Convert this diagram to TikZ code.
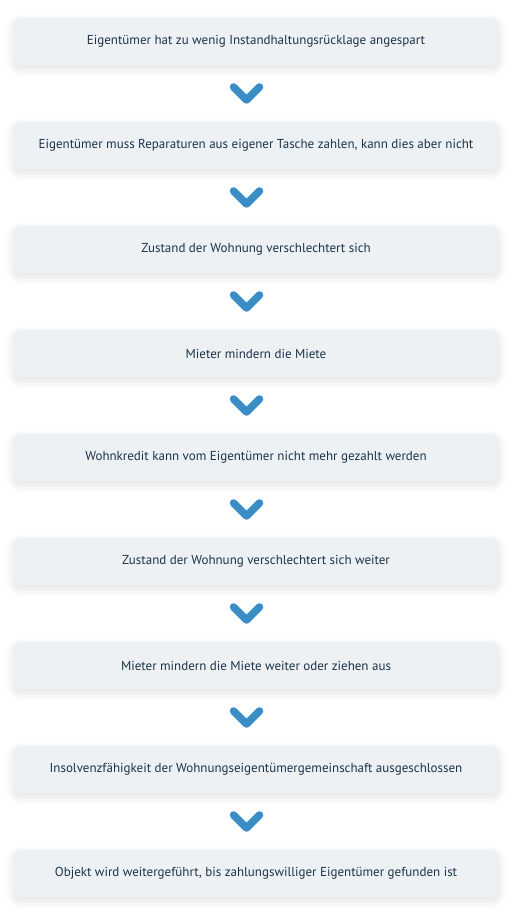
\documentclass[tikz,border=0pt]{standalone}
\usepackage{fontspec}
\setmainfont{PT Sans}
\usetikzlibrary{shadows.blur}
\definecolor{boxfill}{HTML}{EDF1F4}
\definecolor{txt}{HTML}{1C3349}
\definecolor{chev}{HTML}{3A8CC4}
\tikzset{
  stepbox/.style={draw=none, fill=boxfill, rounded corners=8pt, minimum width=486pt, minimum height=47pt,
    text=txt, font=\fontsize{13}{15}\selectfont, inner sep=0pt,
    blur shadow={shadow xshift=0pt, shadow yshift=-4pt, shadow blur steps=10, shadow blur radius=8pt, shadow opacity=12}},
  chevline/.style={draw=chev, line width=7.5pt, line cap=round, line join=round}
}
\begin{document}
\begin{tikzpicture}[x=1pt,y=-1pt]
\useasboundingbox (0,0) rectangle (518,920);
\foreach \i/\t in {0/{Eigentümer hat zu wenig Instandhaltungsrücklage angespart},
  1/{Eigentümer muss Reparaturen aus eigener Tasche zahlen, kann dies aber nicht},
  2/{Zustand der Wohnung verschlechtert sich},
  3/{Mieter mindern die Miete},
  4/{Wohnkredit kann vom Eigentümer nicht mehr gezahlt werden},
  5/{Zustand der Wohnung verschlechtert sich weiter},
  6/{Mieter mindern die Miete weiter oder ziehen aus},
  7/{Insolvenzfähigkeit der Wohnungseigentümergemeinschaft ausgeschlossen},
  8/{Objekt wird weitergeführt, bis zahlungswilliger Eigentümer gefunden ist}}{
  \node[stepbox] (b\i) at (256,41.5+104*\i) {\t};
}
\foreach \i in {0,...,7}{
  \coordinate (c\i) at (246.5,94+104*\i);
  \draw[chevline] ([xshift=-13pt,yshift=7pt]c\i) -- ([yshift=-6pt]c\i) -- ([xshift=13pt,yshift=7pt]c\i);
}
\end{tikzpicture}
\end{document}
